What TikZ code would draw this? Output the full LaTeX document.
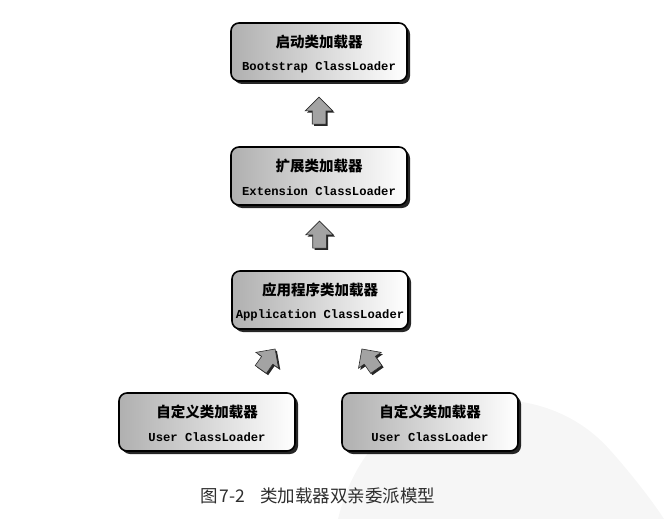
\documentclass[tikz,border=0pt]{standalone}
\usepackage{fontspec}
\newfontfamily\cjk{Noto Sans CJK SC}
\newfontfamily\monob{Liberation Mono}
\usetikzlibrary{shadows,shapes.arrows,calc}

\tikzset{
  loader/.style={
    draw=black, line width=1.6pt, rounded corners=8pt,
    minimum width=176pt, minimum height=58pt, inner sep=0pt,
    left color=gray!62, right color=white,
    drop shadow={shadow xshift=3pt, shadow yshift=-3pt, opacity=0.85, fill=black}},
  cntext/.style={font=\cjk\bfseries\fontsize{14.5}{14.5}\selectfont, inner sep=0pt},
  entext/.style={font=\monob\bfseries\fontsize{12.2}{12}\selectfont, inner sep=0pt},
  blockarrow/.style={
    single arrow, shape border rotate=90, fill=gray!72, draw=gray!35!black, line width=0.6pt,
    single arrow head extend=7pt, inner sep=6.5pt, minimum height=27pt,
    drop shadow={shadow xshift=1.8pt, shadow yshift=-1.8pt, opacity=0.85, fill=black}},
  caption/.style={font=\cjk\fontsize{17.5}{17.5}\selectfont, text=black!82, inner sep=0pt}
}

\begin{document}
\begin{tikzpicture}[x=1pt, y=-1pt]
  \useasboundingbox (0,0) rectangle (664,519);

  % faint watermark in the lower right corner
  \fill[gray!7] (338,519) .. controls (350,470) and (380,420) .. (440,405)
     .. controls (510,390) and (570,405) .. (610,450)
     .. controls (635,478) and (655,505) .. (664,519) -- cycle;

  % loader boxes
  \node[loader] (boot) at (319,52) {};
  \node[loader] (ext)  at (319,176) {};
  \node[loader] (app)  at (320,300) {};
  \node[loader] (usr1) at (207,422) {};
  \node[loader] (usr2) at (430,422) {};

  % box labels: Chinese name above, class name below
  \node[cntext] (bootcn) at ([yshift=10pt]boot.center) {启动类加载器};
  \node[entext] (booten) at ([yshift=-15pt]boot.center) {Bootstrap ClassLoader};
  \node[cntext] (extcn) at ([yshift=10pt]ext.center) {扩展类加载器};
  \node[entext] (exten) at ([yshift=-15pt]ext.center) {Extension ClassLoader};
  \node[cntext] (appcn) at ([yshift=10pt]app.center) {应用程序类加载器};
  \node[entext] (appen) at ([yshift=-15pt]app.center) {Application ClassLoader};
  \node[cntext] (usr1cn) at ([yshift=10pt]usr1.center) {自定义类加载器};
  \node[entext] (usr1en) at ([yshift=-15pt]usr1.center) {User ClassLoader};
  \node[cntext] (usr2cn) at ([yshift=10pt]usr2.center) {自定义类加载器};
  \node[entext] (usr2en) at ([yshift=-15pt]usr2.center) {User ClassLoader};

  % delegation arrows
  \node[blockarrow] (up1) at ($(boot.south)!0.5!(ext.north)$) {};
  \node[blockarrow] (up2) at ($(ext.south)!0.5!(app.north)$) {};
  \node[blockarrow, rotate=-35, minimum height=25pt] (up3) at (266,362) {};
  \node[blockarrow, rotate=35, minimum height=25pt] (up4) at (371,362) {};

  % figure caption
  \node[caption, anchor=west] (cap) at (200,496) {图\hspace{2pt}7-2\hspace{15pt}类加载器双亲委派模型};
\end{tikzpicture}
\end{document}
